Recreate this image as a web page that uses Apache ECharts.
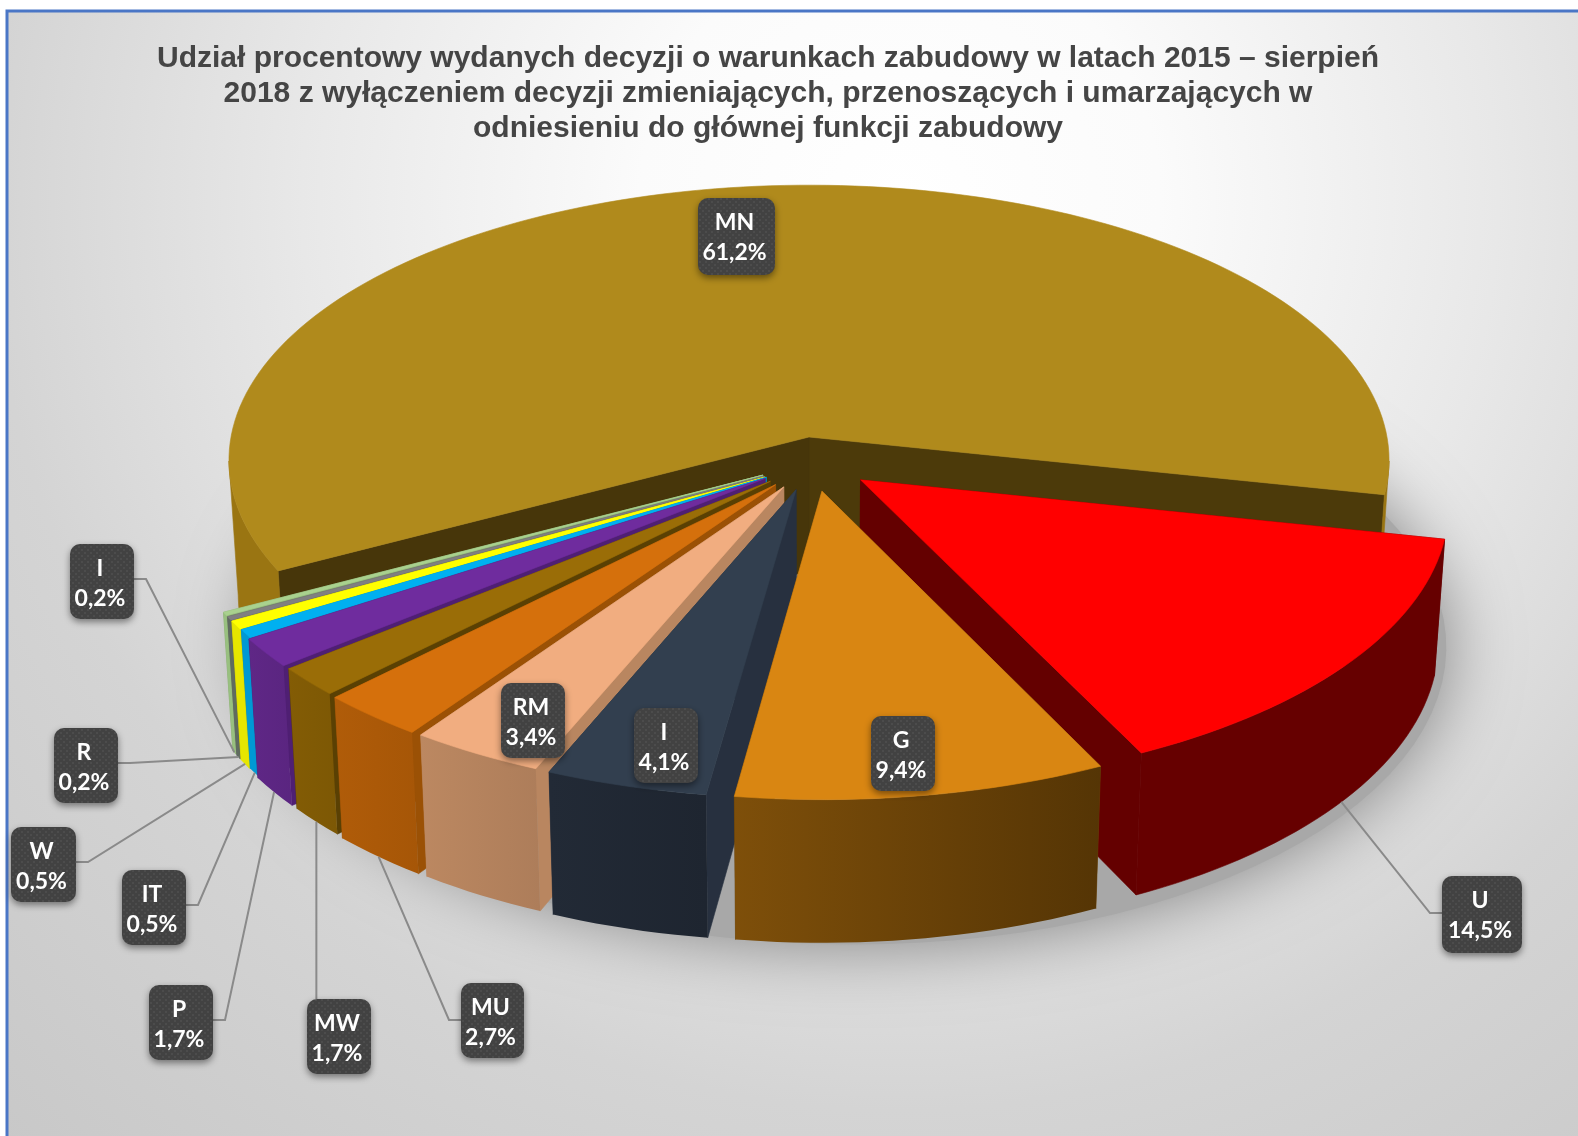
<!DOCTYPE html>
<html>
<head>
<meta charset="utf-8">
<title>Udział procentowy</title>
<script src="https://cdn.jsdelivr.net/npm/echarts@6/dist/echarts.min.js"></script>
<style>
  html, body { margin: 0; padding: 0; background: #fff; }
  #chart { width: 1578px; height: 1136px; }
</style>
</head>
<body>
<div id="chart"></div>
<script>
// data, clockwise from the right edge of the big MN slice
const categories = ['U', 'G', 'I', 'RM', 'MU', 'MW', 'P', 'IT', 'W', 'R', 'I', 'MN'];
const shares = [14.5, 9.4, 4.1, 3.4, 2.7, 1.7, 1.7, 0.5, 0.5, 0.2, 0.2, 61.2];
const titleLines = [
  'Udział procentowy wydanych decyzji o warunkach zabudowy w latach 2015 – sierpień',
  '2018 z wyłączeniem decyzji zmieniających, przenoszących i umarzających w',
  'odniesieniu do głównej funkcji zabudowy'
];

// looks, same order as categories: top, wall left, wall right, cut face
const topColors = ['#ff0000', '#d98612', '#323f4f', '#f1ad80', '#d5700c', '#9a6d07', '#6f2c9e', '#00b0f0', '#ffff00', '#808080', '#a9d18e', '#b08a1c'];
const wallColors = [
  ['#660000', '#660000'], ['#7e4f0a', '#553505'], ['#222a36', '#1e2530'], ['#bc8861', '#ad7d5a'],
  ['#b05c09', '#a65607'], ['#835c05', '#7d5805'], ['#5f2786', '#5a2580'], ['#0099d4', '#0099d4'],
  ['#e6e600', '#e6e600'], ['#5f6b5f', '#5f6b5f'], ['#98c07f', '#98c07f'], ['#9a7512', '#9a7512']
];
const faceColors = ['#640000', '#6a4208', '#27303f', '#b98660', '#9b5105', '#5a4003', '#4f1f73', '#0089bd', '#c9c900', '#5f5f5f', '#86a870', '#4c3a0a'];

// how far each slice is pulled out of the pie (disc units, x and towards viewer)
const sliceShift = [
  [0.088, 0.155], [0.022, 0.195], [-0.022, 0.19], [-0.043, 0.18], [-0.057, 0.172], [-0.066, 0.16],
  [-0.075, 0.15], [-0.073, 0.146], [-0.075, 0.145], [-0.077, 0.142], [-0.079, 0.138], [0, 0]
];
// back to front
const drawOrder = [11, 0, 10, 9, 8, 7, 6, 5, 4, 3, 2, 1];

// label boxes: left, top, width, height; side the leader leaves from ('' = no leader)
const labelBoxes = [
  [1442, 876, 80, 77, 'left'], [871, 716, 64, 75, ''], [634, 708, 64, 75, ''], [501, 683, 64, 75, ''],
  [461, 983, 63, 75, 'left'], [307, 999, 64, 75, 'top'], [149, 985, 64, 75, 'right'], [122, 870, 64, 75, 'right'],
  [11, 827, 65, 75, 'right'], [54, 728, 64, 75, 'right'], [70, 544, 64, 75, 'right'], [698, 198, 77, 77, '']
];

// camera of the 3d pie
const cx = 809, cy = 437, radiusX = 578, radiusY = 273, depth = 134;
const persp = 0.084, depthShrink = 0.016;
const startAngle = 12;
const arcStep = 1.5;
// part of the rim turned to the viewer
const rimFrontFrom = 5, rimFrontTo = 175;

function project(x, y, z) {
  const s = 1 / (1 - persp * y);
  const k = 1 - depthShrink * z;
  return [cx + radiusX * x * s * k, cy + (radiusY * y * k + depth * z) * s];
}

const total = shares.reduce((a, b) => a + b, 0);
let running = startAngle;
const slices = shares.map((v, i) => {
  const from = running;
  running += v / total * 360;
  return { from: from, to: running, mid: (from + running) / 2, shift: sliceShift[i] };
});

function rimPoint(sl, deg, z) {
  const a = deg * Math.PI / 180;
  return project(sl.shift[0] + Math.cos(a), sl.shift[1] + Math.sin(a), z);
}

function degreesBetween(from, to) {
  const out = [];
  for (let d = from; d < to; d += arcStep) out.push(d);
  out.push(to);
  return out;
}

function poly(points, fill) {
  return {
    type: 'polygon',
    shape: { points: points },
    style: { fill: fill, stroke: typeof fill === 'string' ? fill : null, lineWidth: 0.6 }
  };
}

function cutFace(sl, deg, color) {
  const apexTop = project(sl.shift[0], sl.shift[1], 0);
  const apexBot = project(sl.shift[0], sl.shift[1], 1);
  return poly([apexTop, rimPoint(sl, deg, 0), rimPoint(sl, deg, 1), apexBot], color);
}

// wall pieces, only where the rim faces the viewer (a ribbon round the back would fold over itself)
function wallPieces(sl, fill) {
  const pieces = [];
  [[rimFrontFrom, rimFrontTo], [rimFrontFrom + 360, rimFrontTo + 360]].forEach(r => {
    const from = Math.max(sl.from, r[0]);
    const to = Math.min(sl.to, r[1]);
    if (from >= to) return;
    const degs = degreesBetween(from, to);
    const pts = degs.map(d => rimPoint(sl, d, 0)).concat(degs.slice().reverse().map(d => rimPoint(sl, d, 1)));
    pieces.push(poly(pts, fill));
  });
  return pieces;
}

function renderSlice(params) {
  const i = drawOrder[params.dataIndex];
  const sl = slices[i];
  const top = [project(sl.shift[0], sl.shift[1], 0)].concat(degreesBetween(sl.from, sl.to).map(d => rimPoint(sl, d, 0)));
  const wallFill = wallColors[i][0] === wallColors[i][1]
    ? wallColors[i][0]
    : new echarts.graphic.LinearGradient(0, 0, 1, 0, [
        { offset: 0, color: wallColors[i][0] },
        { offset: 1, color: wallColors[i][1] }
      ]);
  // the face turned away from the viewer goes first
  const faces = sl.mid < 90
    ? [cutFace(sl, sl.from, faceColors[i]), cutFace(sl, sl.to, faceColors[i])]
    : [cutFace(sl, sl.to, faceColors[i]), cutFace(sl, sl.from, faceColors[i])];
  if (i === categories.length - 1) {
    // MN: the two faces show in slightly different browns
    faces[1].style.fill = '#47360a';
    faces[1].style.stroke = '#47360a';
  }
  return { type: 'group', children: faces.concat(wallPieces(sl, wallFill), [poly(top, topColors[i])]) };
}

// soft shadow under the pie, the disc itself stays mostly hidden behind the slices
function renderShadow() {
  const pts = [];
  for (let d = 0; d < 360; d += 3) {
    const a = d * Math.PI / 180;
    pts.push(project(0.07 + 1.03 * Math.cos(a), 0.17 + 1.03 * Math.sin(a), 1));
  }
  return {
    type: 'polygon',
    shape: { points: pts },
    style: { fill: '#a8a8a8', shadowBlur: 70, shadowColor: '#828282' }
  };
}

function boxPattern() {
  const c = document.createElement('canvas');
  c.width = 6; c.height = 6;
  const g = c.getContext('2d');
  g.fillStyle = '#424242';
  g.fillRect(0, 0, 6, 6);
  g.fillStyle = '#4c4c4c';
  g.fillRect(0, 0, 2, 2);
  g.fillRect(3, 3, 2, 2);
  return c;
}
const pattern = boxPattern();

function renderLeader(params) {
  const i = params.dataIndex;
  const b = labelBoxes[i];
  if (!b[4]) return null;
  const end = rimPoint(slices[i], slices[i].mid, 1);
  let pts;
  if (b[4] === 'left') {
    const y = b[1] + 37;
    pts = [[b[0], y], [b[0] - 12, y], end];
  } else if (b[4] === 'right') {
    const y = b[1] + 35;
    pts = [[b[0] + b[2], y], [b[0] + b[2] + 12, y], end];
  } else {
    pts = [[end[0], b[1]], end];
  }
  return {
    type: 'polyline',
    shape: { points: pts },
    style: { fill: null, stroke: '#8a8a8a', lineWidth: 2 }
  };
}

function renderLabel(params) {
  const i = params.dataIndex;
  const b = labelBoxes[i];
  const pct = shares[i].toFixed(1).replace('.', ',') + '%';
  const font = 'bold 23px Lato, "Noto Sans", sans-serif';
  const midX = b[0] + b[2] / 2 - 2;
  return {
    type: 'group',
    children: [
      {
        type: 'rect',
        shape: { x: b[0], y: b[1], width: b[2], height: b[3], r: 10 },
        style: {
          fill: { image: pattern, repeat: 'repeat' },
          shadowBlur: 7, shadowOffsetY: 3, shadowColor: 'rgba(0,0,0,0.45)'
        }
      },
      {
        type: 'text',
        style: { x: midX, y: b[1] + 25, text: categories[i], fill: '#fff', font: font, align: 'center', verticalAlign: 'middle' }
      },
      {
        type: 'text',
        style: { x: midX, y: b[1] + 55, text: pct, fill: '#fff', font: font, align: 'center', verticalAlign: 'middle' }
      }
    ]
  };
}

const chart = echarts.init(document.getElementById('chart'), null, { renderer: 'canvas' });
chart.setOption({
  animation: false,
  backgroundColor: '#fff',
  title: {
    text: titleLines.join('\n'),
    left: 763,
    top: 36,
    textAlign: 'center',
    textStyle: {
      fontFamily: '"Liberation Sans", Arial, sans-serif',
      fontWeight: 'bold',
      fontSize: 30,
      lineHeight: 35,
      color: '#454545'
    }
  },
  graphic: [{
    type: 'rect',
    z: -10,
    silent: true,
    shape: { x: 7, y: 11, width: 1590, height: 1140 },
    style: {
      stroke: '#4a76c6',
      lineWidth: 3,
      fill: {
        type: 'radial', x: 900, y: 200, r: 1300, global: true,
        colorStops: [
          { offset: 0, color: '#ffffff' },
          { offset: 0.2, color: '#fbfbfb' },
          { offset: 0.46, color: '#e8e8e8' },
          { offset: 0.7, color: '#d4d4d4' },
          { offset: 1, color: '#c8c8c8' }
        ]
      }
    }
  }],
  series: [
    { type: 'custom', coordinateSystem: 'none', silent: true, z: 1, renderItem: renderShadow, data: [0] },
    { type: 'custom', coordinateSystem: 'none', silent: true, z: 2, renderItem: renderSlice, data: drawOrder.map(i => shares[i]) },
    { type: 'custom', coordinateSystem: 'none', silent: true, z: 3, renderItem: renderLeader, data: shares },
    { type: 'custom', coordinateSystem: 'none', silent: true, z: 4, renderItem: renderLabel, data: shares }
  ]
});
</script>
</body>
</html>
